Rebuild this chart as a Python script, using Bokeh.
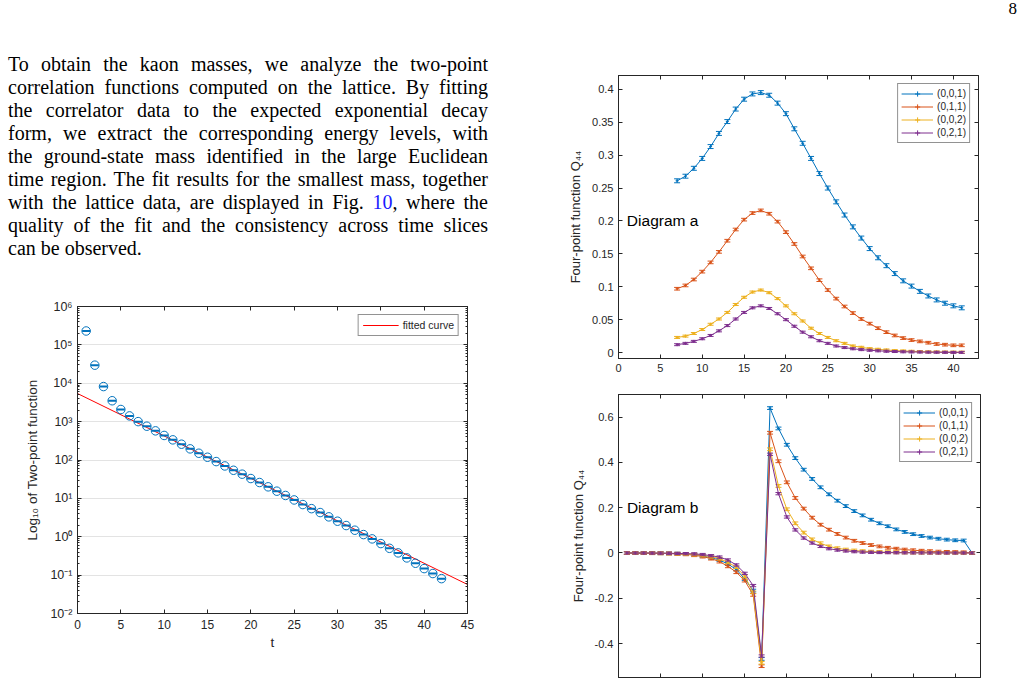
import numpy as np
from bokeh.plotting import figure
from bokeh.models import (Range1d, FixedTicker, LinearAxis, LogAxis, Legend, LegendItem,
                          Div, Label, CustomJSTickFormatter)
from bokeh.layouts import row, column
from bokeh.embed import file_html
from bokeh.resources import INLINE

# ---------------- data: two-point function (left) ----------------
t_two = list(range(1, 43))
c_two = [2.3e5, 2.96e4, 8.2e3, 3.5e3, 2.07e3, 1.41e3, 1.0e3, 760, 575, 436,
         335, 258, 195, 150, 118, 91, 70, 54, 42.7, 32.9,
         25.9, 20.0, 15.4, 11.9, 9.1, 6.9, 5.4, 4.27, 3.3, 2.54,
         1.96, 1.48, 1.14, 0.88, 0.665, 0.50, 0.38, 0.281, 0.204, 0.148,
         0.110, 0.081]
fit_t = [0, 45]
fit_c = [5400.0, 0.057]
log_ticks = [1e-2, 1e-1, 1.0, 10.0, 100.0, 1e3, 1e4, 1e5, 1e6]
log_labels = ["10\u207b\u00b2", "10\u207b\u00b9", "10\u2070", "10\u00b9", "10\u00b2",
              "10\u00b3", "10\u2074", "10\u2075", "10\u2076"]
xl_ticks = [0, 5, 10, 15, 20, 25, 30, 35, 40, 45]

# ---------------- data: Diagram a ----------------
t_a = list(range(7, 42))
a_001 = [0.261, 0.268, 0.280, 0.295, 0.313, 0.333, 0.351, 0.370, 0.385, 0.393,
         0.395, 0.391, 0.379, 0.363, 0.340, 0.318, 0.295, 0.272, 0.250, 0.229,
         0.209, 0.191, 0.174, 0.158, 0.144, 0.132, 0.120, 0.109, 0.101, 0.093,
         0.086, 0.080, 0.075, 0.071, 0.068]
a_011 = [0.097, 0.102, 0.111, 0.123, 0.137, 0.153, 0.170, 0.187, 0.202, 0.212,
         0.216, 0.211, 0.199, 0.183, 0.165, 0.146, 0.128, 0.110, 0.095, 0.082,
         0.070, 0.060, 0.051, 0.044, 0.037, 0.031, 0.026, 0.022, 0.019, 0.017,
         0.015, 0.013, 0.012, 0.011, 0.011]
a_002 = [0.023, 0.025, 0.029, 0.035, 0.043, 0.051, 0.061, 0.073, 0.084, 0.092,
         0.095, 0.091, 0.082, 0.071, 0.059, 0.048, 0.037, 0.029, 0.023, 0.018,
         0.014, 0.010, 0.008, 0.006, 0.005, 0.004, 0.003, 0.0025, 0.002, 0.0015,
         0.0012, 0.001, 0.0008, 0.0007, 0.0006]
a_021 = [0.012, 0.014, 0.017, 0.021, 0.026, 0.033, 0.041, 0.051, 0.061, 0.068,
         0.071, 0.067, 0.059, 0.050, 0.040, 0.031, 0.024, 0.018, 0.014, 0.010,
         0.0076, 0.0058, 0.0045, 0.0035, 0.0027, 0.002, 0.0016, 0.0012, 0.001, 0.0008,
         0.0006, 0.0005, 0.0004, 0.0003, 0.0003]
err_a = [0.003, 0.002, 0.0015, 0.0015]

# ---------------- data: Diagram b ----------------
t_b = list(range(1, 43))
b_001 = [-0.0002, -0.0003, -0.0005, -0.0008, -0.0013, -0.002, -0.003, -0.005, -0.008, -0.013,
         -0.021, -0.031, -0.049, -0.073, -0.115, -0.166, -0.468,
         0.640, 0.550, 0.478, 0.419, 0.368, 0.327, 0.290, 0.259, 0.231, 0.207,
         0.185, 0.166, 0.147, 0.131, 0.118, 0.104, 0.093, 0.083, 0.075, 0.068,
         0.063, 0.059, 0.056, 0.055, 0.0]
b_011 = [-0.0002, -0.0004, -0.0006, -0.001, -0.0016, -0.0025, -0.004, -0.006, -0.010, -0.016,
         -0.025, -0.038, -0.059, -0.085, -0.122, -0.185, -0.500,
         0.531, 0.405, 0.312, 0.243, 0.196, 0.156, 0.125, 0.103, 0.084, 0.068,
         0.054, 0.044, 0.035, 0.029, 0.023, 0.019, 0.015, 0.012, 0.010, 0.008,
         0.006, 0.005, 0.004, 0.003, 0.0]
b_002 = [-0.0002, -0.0003, -0.0005, -0.0008, -0.0012, -0.0019, -0.003, -0.0045, -0.007, -0.011,
         -0.016, -0.025, -0.041, -0.063, -0.103, -0.174, -0.485,
         0.458, 0.296, 0.193, 0.131, 0.090, 0.060, 0.043, 0.029, 0.021, 0.015,
         0.011, 0.008, 0.006, 0.0045, 0.0035, 0.0027, 0.002, 0.0015, 0.0012, 0.0009,
         0.0007, 0.0005, 0.0004, 0.0003, 0.0]
b_021 = [-0.0001, -0.0002, -0.0003, -0.0005, -0.0008, -0.0012, -0.002, -0.003, -0.004, -0.007,
         -0.012, -0.018, -0.031, -0.053, -0.090, -0.144, -0.455,
         0.436, 0.262, 0.159, 0.102, 0.066, 0.044, 0.029, 0.019, 0.013, 0.009,
         0.006, 0.004, 0.003, 0.0022, 0.0016, 0.0012, 0.0009, 0.0007, 0.0005, 0.0004,
         0.0003, 0.0002, 0.0002, 0.0001, 0.0]
err_b = [0.006, 0.006, 0.006, 0.005]

series_labels = ["(0,0,1)", "(0,1,1)", "(0,0,2)", "(0,2,1)"]
colors = ["#0072BD", "#D95319", "#EDB120", "#7E2F8E"]

xr_ticks = [0, 5, 10, 15, 20, 25, 30, 35, 40]
ya_ticks = [0, 0.05, 0.1, 0.15, 0.2, 0.25, 0.3, 0.35, 0.4]
ya_labels = ["0", "0.05", "0.1", "0.15", "0.2", "0.25", "0.3", "0.35", "0.4"]
yb_ticks = [-0.4, -0.2, 0, 0.2, 0.4, 0.6]
yb_labels = ["-0.4", "-0.2", "0", "0.2", "0.4", "0.6"]

para_lines = [
    "To obtain the kaon masses, we analyze the two-point",
    "correlation functions computed on the lattice. By fitting",
    "the correlator data to the expected exponential decay",
    "form, we extract the corresponding energy levels, with",
    "the ground-state mass identified in the large Euclidean",
    "time region. The fit results for the smallest mass, together",
    "with the lattice data, are displayed in Fig. <span style=\"color:#1a1aff\">10</span>, where the",
    "quality of the fit and the consistency across time slices",
    "can be observed.",
]

# ---------------- styling helpers ----------------
AX = "#262626"
FONT = "Liberation Sans"


def style_axis(ax, fs="11px", show=True, minor=False):
    ax.axis_line_color = AX
    ax.axis_line_width = 1
    ax.major_tick_line_color = AX
    ax.major_tick_in = 4
    ax.major_tick_out = 0
    if minor:
        ax.minor_tick_line_color = AX
        ax.minor_tick_in = 2
        ax.minor_tick_out = 0
    else:
        ax.minor_tick_line_color = None
    ax.major_label_text_color = AX
    ax.major_label_text_font = FONT
    if show:
        ax.major_label_text_font_size = fs
        ax.major_label_standoff = 5
    else:
        ax.formatter = CustomJSTickFormatter(code="return ''")
        ax.major_label_text_font_size = "0px"
        ax.major_label_standoff = 0
    ax.axis_label_text_font = FONT
    ax.axis_label_text_font_style = "normal"
    ax.axis_label_text_color = AX


def new_fig(**kw):
    p = figure(output_backend="svg", toolbar_location=None, **kw)
    p.background_fill_color = "white"
    p.border_fill_color = "white"
    p.outline_line_color = AX
    p.xgrid.grid_line_color = None
    p.ygrid.grid_line_color = None
    return p


# ---------------- left: two-point function ----------------
minor_log = [m * 10.0 ** k for k in range(-2, 6) for m in range(2, 10)]
pL = new_fig(y_axis_type="log", x_range=Range1d(0, 45), y_range=Range1d(1e-2, 1e6),
             frame_width=390, frame_height=307, min_border_left=77, min_border_right=38,
             min_border_top=16, min_border_bottom=45)
pL.xaxis[0].ticker = FixedTicker(ticks=xl_ticks)
pL.yaxis[0].ticker = FixedTicker(ticks=log_ticks, minor_ticks=minor_log)
pL.yaxis[0].major_label_overrides = dict(zip(log_ticks, log_labels))
style_axis(pL.xaxis[0], "12px")
style_axis(pL.yaxis[0], "12.5px", minor=True)
pL.xaxis[0].major_label_standoff = 6
pL.yaxis[0].major_label_standoff = 5
pL.xaxis[0].axis_label = "t"
pL.xaxis[0].axis_label_text_font_size = "13.5px"
pL.xaxis[0].axis_label_standoff = 3
pL.yaxis[0].axis_label = "Log\u2081\u2080 of Two-point function"
pL.yaxis[0].axis_label_text_font_size = "13.5px"
pL.yaxis[0].axis_label_standoff = 7
pL.ygrid.grid_line_color = "#e3e3e3"
pL.ygrid.ticker = FixedTicker(ticks=log_ticks)
topL = LinearAxis(ticker=FixedTicker(ticks=xl_ticks))
style_axis(topL, show=False)
pL.add_layout(topL, "above")
rightL = LogAxis(ticker=FixedTicker(ticks=log_ticks, minor_ticks=minor_log))
style_axis(rightL, show=False, minor=True)
pL.add_layout(rightL, "right")

fit_r = pL.line(fit_t, fit_c, line_color="#FF0000", line_width=1)
pL.scatter(t_two, c_two, marker="circle", size=8.5, fill_color=None,
           line_color="#0072BD", line_width=1)
pL.scatter(t_two, c_two, marker="dash", size=8, line_color="#0072BD", line_width=2)
legL = Legend(items=[LegendItem(label="fitted curve", renderers=[fit_r])],
              location="top_right", border_line_color=AX, border_line_width=1,
              label_text_font=FONT, label_text_font_size="10.5px", label_text_color=AX,
              glyph_width=36, glyph_height=12, label_height=12, padding=4, spacing=0,
              label_standoff=4, margin=8, background_fill_alpha=1)
pL.add_layout(legL)


# ---------------- right plots ----------------
def q_fig(t, series, errs, yr, yticks, ylabels, show_x, border_l, frame_w, bt, bb, tag):
    p = new_fig(x_range=Range1d(0, 43), y_range=Range1d(*yr),
                frame_width=frame_w, frame_height=283, min_border_left=border_l,
                min_border_right=524 - border_l - frame_w, min_border_top=bt, min_border_bottom=bb)
    p.xaxis[0].ticker = FixedTicker(ticks=xr_ticks)
    p.yaxis[0].ticker = FixedTicker(ticks=yticks)
    p.yaxis[0].major_label_overrides = dict(zip(yticks, ylabels))
    style_axis(p.xaxis[0], "11px", show=show_x)
    style_axis(p.yaxis[0], "11px")
    p.yaxis[0].axis_label = "Four-point function Q\u2084\u2084"
    p.yaxis[0].axis_label_text_font_size = "13px"
    p.yaxis[0].axis_label_standoff = 6
    top = LinearAxis(ticker=FixedTicker(ticks=xr_ticks))
    style_axis(top, show=False)
    p.add_layout(top, "above")
    rgt = LinearAxis(ticker=FixedTicker(ticks=yticks))
    style_axis(rgt, show=False)
    p.add_layout(rgt, "right")

    items = []
    for vals, err, col, lab in zip(series, errs, colors, series_labels):
        lo = [v - err for v in vals]
        hi = [v + err for v in vals]
        lr = p.line(t, vals, line_color=col, line_width=1)
        p.segment(t, lo, t, hi, line_color=col, line_width=1)
        p.scatter(t, lo, marker="dash", size=6, line_color=col, line_width=1)
        p.scatter(t, hi, marker="dash", size=6, line_color=col, line_width=1)
        stem = p.scatter(t, vals, marker="cross", size=3, line_color=col, line_width=1)
        items.append(LegendItem(label=lab, renderers=[lr, stem]))
    leg = Legend(items=items, location="top_right", border_line_color=AX, border_line_width=1,
                 label_text_font=FONT, label_text_font_size="10px", label_text_color=AX,
                 glyph_width=32, glyph_height=13, label_height=13, padding=3, spacing=0,
                 label_standoff=4, margin=8, background_fill_alpha=1)
    p.add_layout(leg)
    p.add_layout(Label(x=1, y=0.2, text=tag, text_font=FONT, text_font_size="15.5px",
                       text_baseline="middle", text_color="black"))
    return p


pA = q_fig(t_a, [a_001, a_011, a_002, a_021], err_a, (-0.009, 0.421), ya_ticks, ya_labels,
           True, 113, 360, 45, 20, "Diagram a")
pB = q_fig(t_b, [b_001, b_011, b_002, b_021], err_b, (-0.55, 0.70), yb_ticks, yb_labels,
           False, 110, 362, 16, 7, "Diagram b")

# ---------------- text blocks ----------------
body = "".join(
    '<div style="text-align:justify;text-align-last:justify;">%s</div>' % l for l in para_lines[:-1]
) + '<div style="text-align:left;">%s</div>' % para_lines[-1]
para_html = ('<div style="padding:53px 0 0 8px;width:488px;font-family:\'Liberation Serif\';'
             'font-size:20px;line-height:23px;color:#000;">%s</div>' % body)
para = Div(text=para_html, width=505, height=290, margin=0)
pagenum = Div(text='<div style="width:512px;text-align:right;font-family:\'Liberation Serif\';'
                   'font-size:17px;line-height:17px;padding-top:0px;color:#000;">8</div>',
              width=524, height=30, margin=0)

left = column(para, pL, spacing=0)
right = column(pagenum, pA, pB, spacing=0)
page = row(left, right, spacing=0)

open("out.html", "w").write(file_html(page, INLINE))
